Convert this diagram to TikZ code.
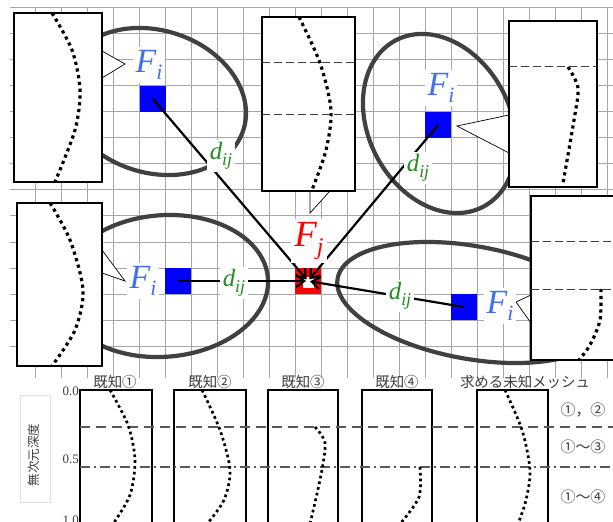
\documentclass[tikz,border=0pt]{standalone}
\usepackage{fontspec}
\setmainfont{Liberation Serif}
\newfontfamily\jpfont{Noto Sans CJK JP}
\usetikzlibrary{arrows.meta}
\definecolor{labblue}{RGB}{66,110,240}
\definecolor{dgreen}{RGB}{30,140,30}
\definecolor{ringgray}{RGB}{64,64,64}
\definecolor{txtgray}{RGB}{60,60,60}
\newcommand\symlab[4]{{\fontsize{#3}{#3}\selectfont\itshape #1}{\fontsize{#4}{#4}\selectfont\itshape\raisebox{-0.35em}{#2}}}
\begin{document}
\begin{tikzpicture}[x=1bp,y=-1bp,
 gridline/.style={black!35,line width=1bp},
 ring/.style={draw=ringgray,line width=4.2bp},
 panel/.style={draw=black,fill=white,line width=1.5bp},
 tailshape/.style={draw=black,fill=white,line width=0.7bp,line join=miter},
 bigdots/.style={line width=3.2bp,dash pattern=on 3.2bp off 3.6bp},
 smalldots/.style={line width=2.7bp,dash pattern=on 2.7bp off 3.1bp},
 boxdash/.style={black!75,line width=1bp,dash pattern=on 8bp off 4bp},
 cellblue/.style={fill=blue,minimum size=26bp,inner sep=0pt,outer sep=0pt},
 cellred/.style={fill=red,minimum size=26bp,inner sep=0pt,outer sep=0pt},
 filab/.style={fill=white,text=labblue,inner sep=3bp},
 fjlab/.style={fill=white,text=red,inner sep=3bp},
 dlab/.style={fill=white,text=dgreen,inner sep=2.5bp},
 conn/.style={draw=black,line width=2.2bp,shorten >=2bp,-{Straight Barb[length=8bp,width=12bp]}},
 jplab/.style={font=\jpfont\fontsize{14.5}{14.5}\selectfont,text=txtgray,inner sep=0pt},
 numlab/.style={font=\fontsize{13}{13}\selectfont,text=txtgray,inner sep=0pt},
 rangelab/.style={font=\jpfont\fontsize{15}{15}\selectfont,text=txtgray,inner sep=0pt},
 lvldash/.style={black!65,line width=1.1bp,dash pattern=on 10bp off 6bp},
 lvldashdot/.style={black!65,line width=1.1bp,dash pattern=on 10bp off 4bp on 2bp off 4bp},
 bpanel/.style={draw=black,fill=white,line width=1.8bp}
]
\useasboundingbox (0,0) rectangle (613,522);
\clip (0,0) rectangle (613,522);
% grid
\foreach \gx in {0,...,22} \draw[gridline] ({35+26*\gx},8) -- ({35+26*\gx},378);
\foreach \gy in {0,...,13} \draw[gridline] (10,{8+26*\gy}) -- (613,{8+26*\gy});
% rings
\draw[ring, rotate around={-17.5:(154,101.5)}] (154,101.5) ellipse [x radius=93.8bp, y radius=71.2bp];
\draw[ring, rotate around={-62.3:(439.5,123.5)}] (439.5,123.5) ellipse [x radius=94bp, y radius=71bp];
\draw[ring, rotate around={4.3:(163.5,286)}] (163.5,286) ellipse [x radius=104.7bp, y radius=70.8bp];
\draw[ring, rotate around={-10.2:(471.5,302.5)}] (471.5,302.5) ellipse [x radius=136bp, y radius=56.4bp];
% callout tails
\draw[tailshape] (102,51) -- (125,64) -- (102,78);
\draw[tailshape] (310,191) -- (310,213) -- (330,191);
\draw[tailshape] (509,115) -- (457,126) -- (509,153);
\draw[tailshape] (102,250) -- (125,281) -- (102,273);
\draw[tailshape] (531,295) -- (516,302) -- (531,323);
% panels
\draw[panel] (14,13) rectangle (102,182);
\draw[bigdots] plot[smooth] coordinates {(52,13) (72,50) (80,90) (75,130) (55,182)};
\draw[panel] (262,17) rectangle (355,191);
\draw[boxdash] (262,63) -- (355,63);
\draw[boxdash] (262,115) -- (355,115);
\draw[bigdots] plot[smooth] coordinates {(299,17) (320,63) (331,110) (326,150) (312,190)};
\draw[panel] (509,21) rectangle (597,187);
\draw[boxdash] (509,67) -- (597,67);
\draw[bigdots] plot[smooth] coordinates {(568,67) (578,88) (574,120) (563,183)};
\draw[panel] (17,203) rectangle (102,366);
\draw[bigdots] plot[smooth] coordinates {(50,203) (70,240) (83,290) (75,330) (52,366)};
\draw[panel] (531,196) rectangle (625,360);
\draw[boxdash] (531,241) -- (613,241);
\draw[boxdash] (531,289) -- (613,289);
\draw[bigdots] plot[smooth] coordinates {(601,289) (600,320) (590,345) (579,360)};
% cells
\node[cellblue] (b1) at (153,99) {};
\node[cellblue] (b2) at (438,125) {};
\node[cellblue] (b3) at (178,281) {};
\node[cellblue] (b4) at (464,307) {};
\node[cellred] (fj) at (308,281) {};
\fill[white] (303,277) rectangle (314,288);
% connectors
\draw[conn] (b1.center) -- (fj.center);
\draw[conn] (b2.center) -- (fj.center);
\draw[conn] (b3.center) -- (fj.center);
\draw[conn] (b4.center) -- (fj.center);
% labels
\node[filab] (f1) at (149,65) {\symlab{F}{i}{34}{22}};
\node[filab] (f2) at (441,88) {\symlab{F}{i}{34}{22}};
\node[filab] (f3) at (143,281) {\symlab{F}{i}{34}{22}};
\node[filab] (f4) at (500,306) {\symlab{F}{i}{34}{22}};
\node[fjlab] (fjl) at (309,241) {\symlab{F}{j}{37}{24}};
\node[dlab] (d1) at (221,156) {\symlab{d}{ij}{25}{18}};
\node[dlab] (d2) at (418,168) {\symlab{d}{ij}{25}{18}};
\node[dlab] (d3) at (234,283) {\symlab{d}{ij}{25}{18}};
\node[dlab] (d4) at (400,296) {\symlab{d}{ij}{25}{18}};
% bottom chart
\draw[black!12,line width=0.8bp] (20,395) rectangle (50,502);
\node[jplab,rotate=90,font=\jpfont\fontsize{12.5}{12.5}\selectfont] (ax) at (34,455) {無次元深度};
\node[numlab,anchor=east] (n0) at (79,391) {0.0};
\node[numlab,anchor=east] (n5) at (79,459) {0.5};
\node[numlab,anchor=east] (n10) at (79,520) {1.0};
\draw[bpanel] (80,390) rectangle (152,535);
\draw[bpanel] (174,390) rectangle (246,535);
\draw[bpanel] (268,390) rectangle (338,535);
\draw[bpanel] (362,390) rectangle (432,535);
\draw[bpanel] (477,390) rectangle (548,535);
\draw[lvldash] (80,427) -- (613,427);
\draw[lvldashdot] (80,467) -- (613,467);
\draw[smalldots] plot[smooth] coordinates {(110,390) (128,425) (135,460) (130,495) (113,524)};
\draw[smalldots] plot[smooth] coordinates {(202,390) (220,430) (230,470) (224,500) (207,524)};
\draw[smalldots] plot[smooth] coordinates {(315,427) (325,443) (321,475) (310,524)};
\draw[smalldots] plot[smooth] coordinates {(420,467) (419,497) (400,524)};
\draw[smalldots] plot[smooth] coordinates {(505,390) (522,430) (530,470) (526,500) (518,524)};
\node[jplab] (k1) at (115,382) {既知①};
\node[jplab] (k2) at (210,382) {既知②};
\node[jplab] (k3) at (303,382) {既知③};
\node[jplab] (k4) at (397,382) {既知④};
\node[jplab] (k5) at (525,382) {求める未知メッシュ};
\node[rangelab] (r1) at (583,410) {①，②};
\node[rangelab] (r2) at (583,447) {①～③};
\node[rangelab] (r3) at (583,497) {①～④};
\end{tikzpicture}
\end{document}
